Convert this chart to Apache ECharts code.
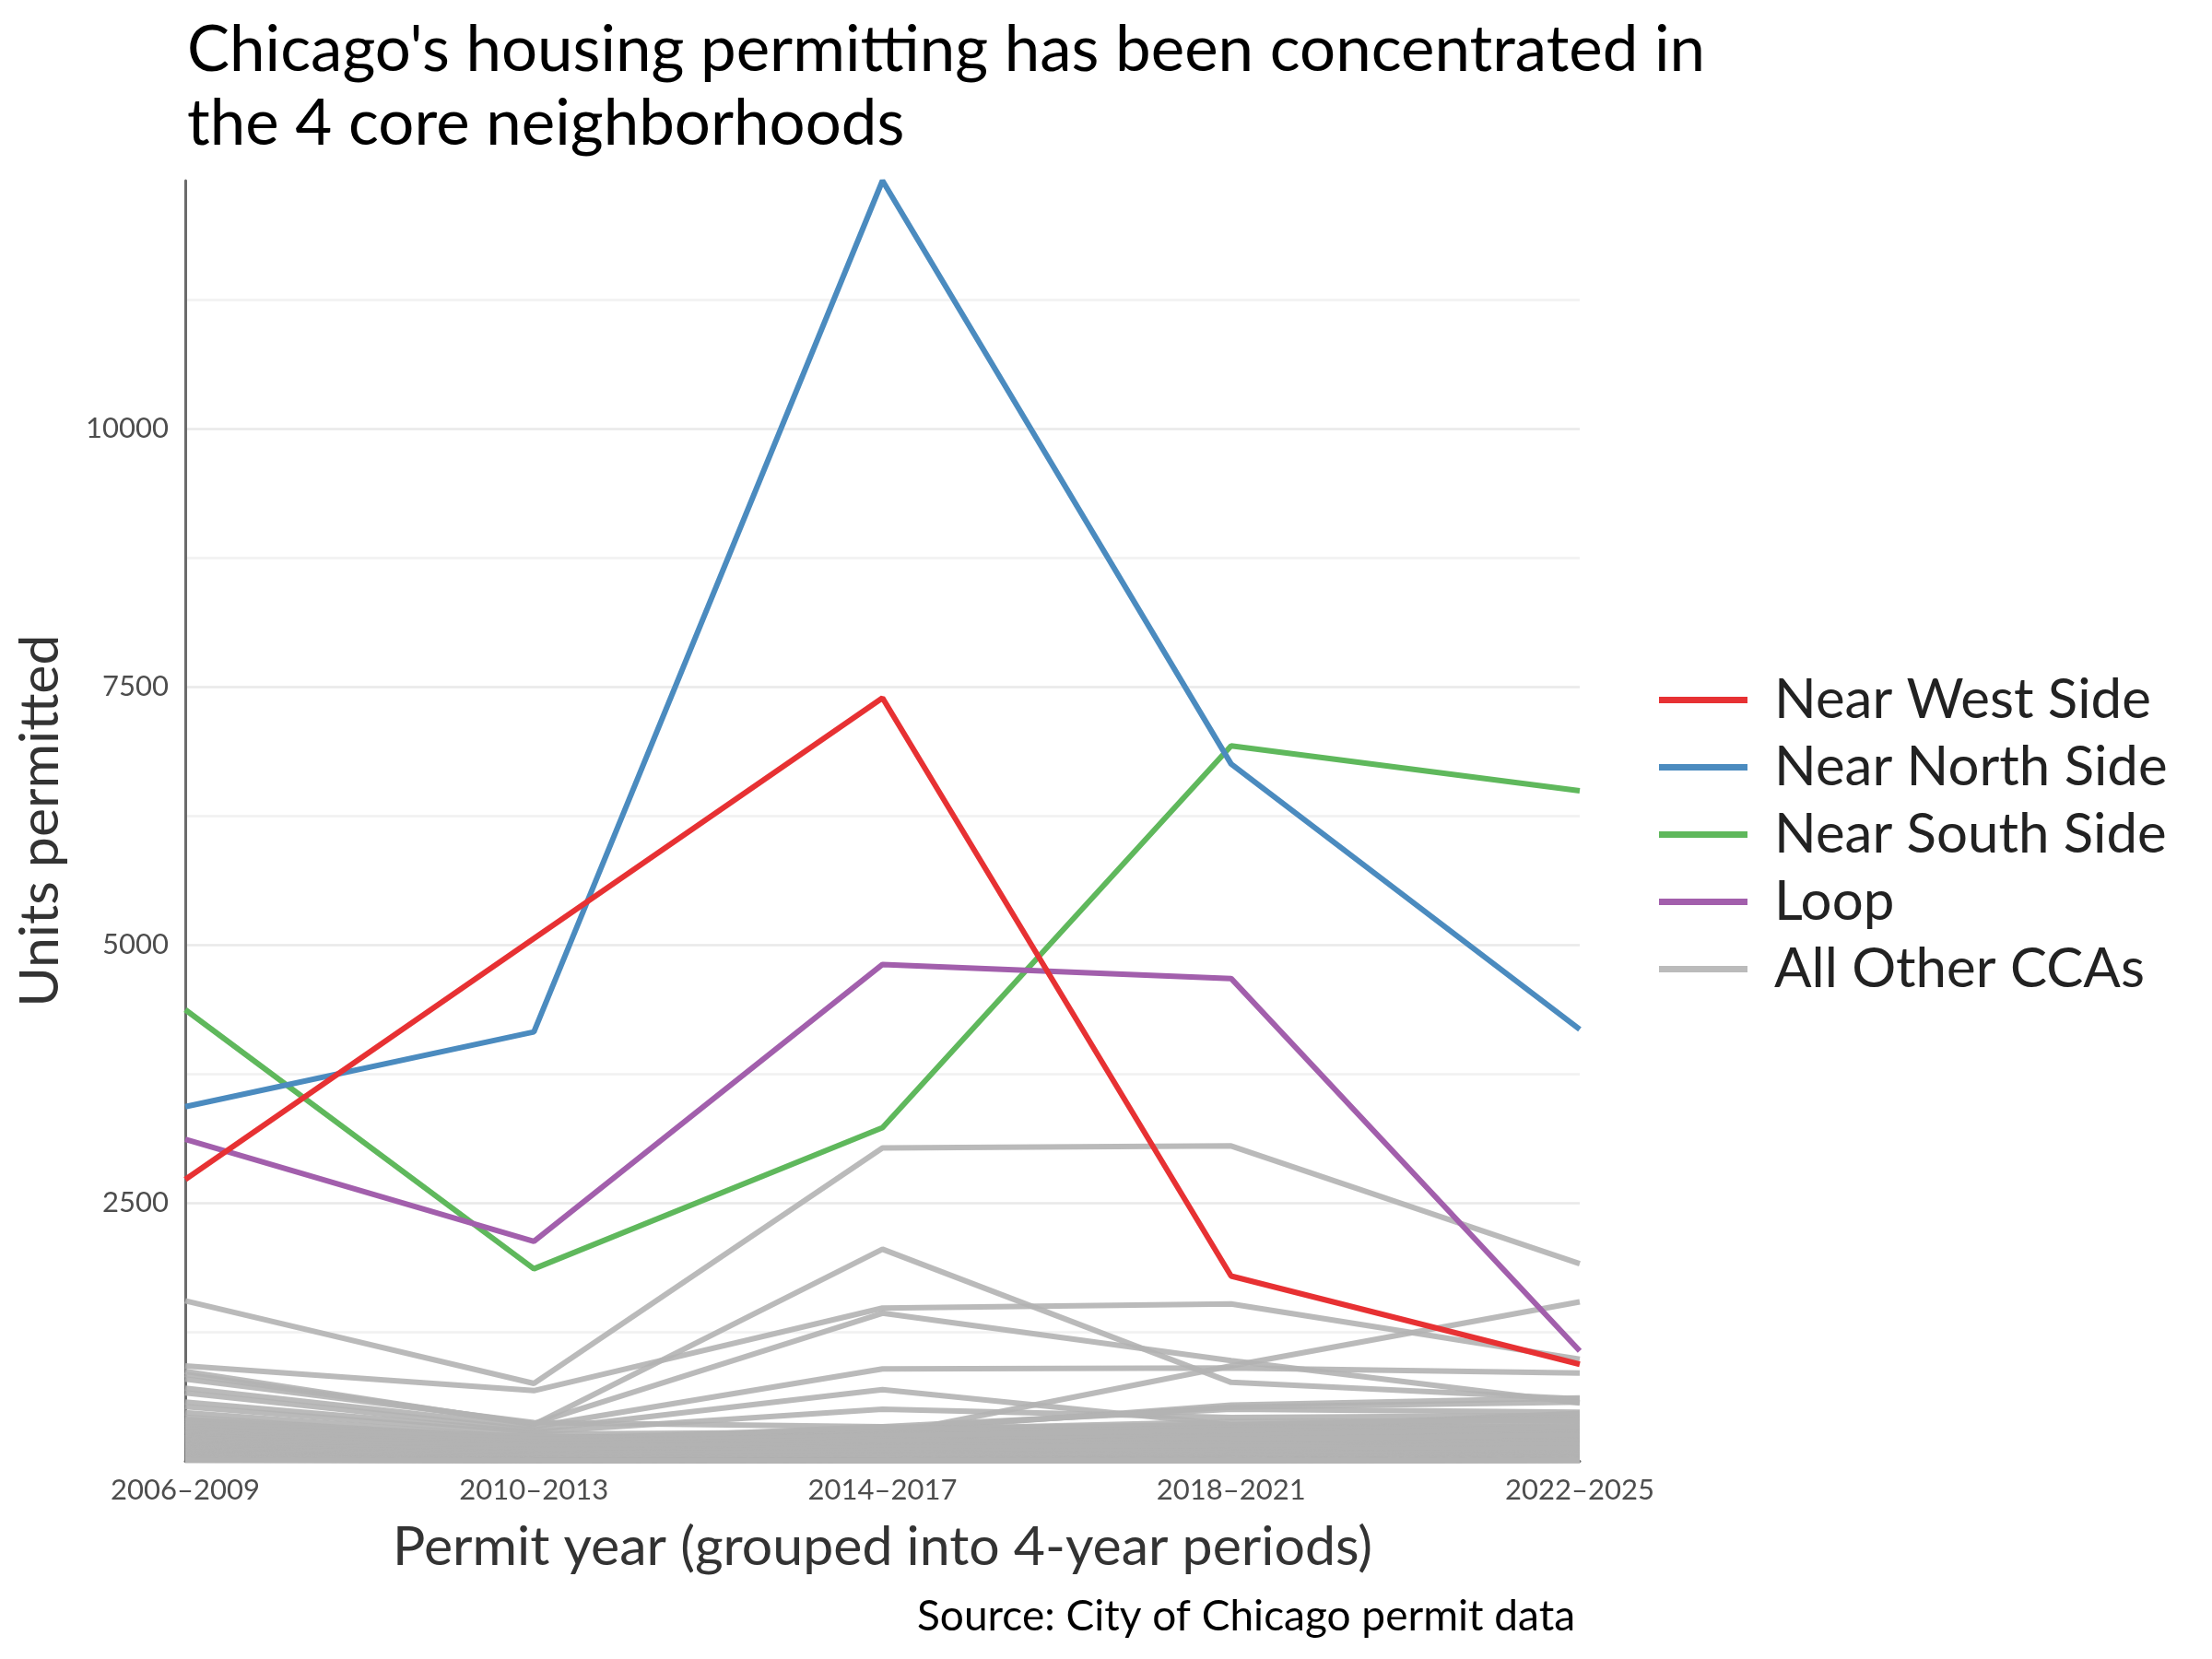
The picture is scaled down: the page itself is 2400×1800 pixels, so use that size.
<!DOCTYPE html>
<html>
<head>
<meta charset="utf-8">
<script src="https://cdn.jsdelivr.net/npm/echarts@6/dist/echarts.min.js"></script>
<style>
  html, body { margin: 0; padding: 0; background: #ffffff; }
  #chart { width: 2400px; height: 1800px; }
</style>
</head>
<body>
<div id="chart"></div>
<script>
// ---- data ----
const periods = ['2006–2009', '2010–2013', '2014–2017', '2018–2021', '2022–2025'];

const nearWestSide  = [2725, 5060, 7390, 1790, 935];
const nearNorthSide = [3430, 4155, 12400, 6750, 4180];
const nearSouthSide = [4370, 1860, 3228, 6925, 6490];
const loop          = [3115, 2125, 4808, 4672, 1065];

// each row: one other community area, values by period
const otherCCAs = [
  [1550, 750, 3030, 3050, 1910],
  [920, 680, 1480, 1520, 985],
  [866, 350, 2050, 760, 600],
  [837, 360, 1430, 970, 560],
  [300, 150, 250, 920, 1540],
  [703, 330, 890, 900, 850],
  [658, 300, 690, 350, 320],
  [570, 280, 500, 420, 440],
  [466, 220, 290, 540, 610],
  [421, 200, 310, 520, 570],
  [792, 370, 330, 500, 470],
  [525, 260, 280, 340, 410],
  [377, 190, 300, 330, 380],
  [350, 180, 320, 310, 460],
  [260, 150, 310, 350, 420],
  [200, 170, 300, 380, 390],
  [180, 130, 280, 300, 340],
  [150, 120, 260, 320, 300],
  [400, 220, 240, 260, 280],
  [360, 230, 200, 280, 240],
  [230, 190, 330, 230, 200],
  [140, 160, 250, 270, 180],
  [310, 240, 150, 200, 160],
  [110, 90, 210, 250, 230],
  [80, 60, 160, 210, 260],
  [330, 210, 180, 260, 300],
  [315, 120, 150, 220, 310],
  [298, 180, 240, 300, 270],
  [285, 90, 130, 180, 260],
  [270, 160, 200, 150, 220],
  [262, 140, 120, 240, 330],
  [250, 110, 170, 200, 180],
  [244, 70, 90, 160, 240],
  [236, 150, 210, 130, 150],
  [228, 100, 140, 190, 210],
  [220, 80, 110, 120, 170],
  [214, 130, 160, 210, 250],
  [206, 60, 70, 100, 140],
  [198, 120, 190, 170, 120],
  [190, 95, 100, 140, 200],
  [184, 140, 150, 110, 90],
  [176, 50, 80, 130, 190],
  [170, 110, 120, 90, 110],
  [162, 85, 140, 160, 130],
  [156, 40, 60, 70, 100],
  [150, 100, 110, 120, 160],
  [144, 70, 90, 80, 70],
  [138, 60, 130, 140, 110],
  [132, 30, 50, 60, 90],
  [126, 80, 70, 100, 120],
  [120, 50, 100, 90, 60],
  [114, 40, 45, 70, 80],
  [108, 70, 80, 50, 40],
  [102, 25, 35, 40, 65],
  [96, 55, 60, 75, 50],
  [90, 30, 40, 30, 45],
  [84, 45, 55, 60, 30],
  [78, 20, 25, 35, 55],
  [72, 35, 30, 20, 25],
  [66, 15, 20, 45, 40],
  [60, 25, 45, 30, 20],
  [54, 10, 15, 25, 35],
  [48, 20, 25, 15, 15],
  [42, 8, 12, 20, 28],
  [36, 14, 18, 10, 12],
  [30, 6, 10, 14, 22],
  [26, 12, 8, 6, 10],
  [22, 4, 6, 10, 16],
  [18, 8, 5, 4, 6],
  [14, 3, 4, 8, 12],
  [10, 5, 3, 2, 4],
  [8, 2, 2, 5, 8],
  [5, 3, 1, 1, 2]
];

const yTickLabels = [2500, 5000, 7500, 10000];

// ---- chart ----
const FONT = 'Lato';
const colors = {
  'Near West Side': '#e73133',
  'Near North Side': '#4b8bbf',
  'Near South Side': '#5fb85c',
  'Loop': '#a25fac',
  'All Other CCAs': '#b3b3b3'
};
const LW = 6;

const series = [];
otherCCAs.forEach(function (row) {
  series.push({
    name: 'All Other CCAs',
    type: 'line',
    data: row,
    symbol: 'none',
    silent: true,
    lineStyle: { color: colors['All Other CCAs'], width: LW, opacity: 0.9 },
    itemStyle: { color: '#bbbbbb' },
    emphasis: { disabled: true }
  });
});
[
  ['Near South Side', nearSouthSide],
  ['Near North Side', nearNorthSide],
  ['Loop', loop],
  ['Near West Side', nearWestSide]
].forEach(function (p) {
  series.push({
    name: p[0],
    type: 'line',
    data: p[1],
    symbol: 'none',
    silent: true,
    lineStyle: { color: colors[p[0]], width: LW },
    itemStyle: { color: colors[p[0]] },
    emphasis: { disabled: true }
  });
});

const major = '#e9e9e9', minor = '#f1f1f1';
const chart = echarts.init(document.getElementById('chart'), null, { renderer: 'canvas' });
chart.setOption({
  animation: false,
  backgroundColor: '#ffffff',
  textStyle: { fontFamily: FONT },
  title: [
    {
      text: "Chicago's housing permitting has been concentrated in\nthe 4 core neighborhoods",
      left: 198,
      top: 10,
      textStyle: { fontFamily: FONT, fontSize: 69, fontWeight: 'normal', color: '#000000', lineHeight: 80 }
    },
    {
      text: 'Source: City of Chicago permit data',
      right: 686,
      top: 1726,
      textStyle: { fontFamily: FONT, fontSize: 46, fontWeight: 'normal', color: '#000000' }
    }
  ],
  legend: {
    orient: 'vertical',
    left: 1795,
    top: 724,
    icon: 'rect',
    itemWidth: 96,
    itemHeight: 7,
    itemGap: 12,
    selectedMode: false,
    data: [
      { name: 'Near West Side', itemStyle: { color: colors['Near West Side'] } },
      { name: 'Near North Side', itemStyle: { color: colors['Near North Side'] } },
      { name: 'Near South Side', itemStyle: { color: colors['Near South Side'] } },
      { name: 'Loop', itemStyle: { color: colors['Loop'] } },
      { name: 'All Other CCAs', itemStyle: { color: '#bbbbbb' } }
    ],
    textStyle: { fontFamily: FONT, fontSize: 60, color: '#222222', lineHeight: 61, padding: [0, 0, 0, 24] }
  },
  grid: { left: 201, right: 686, top: 196, bottom: 215, containLabel: false },
  xAxis: {
    type: 'category',
    data: periods,
    boundaryGap: false,
    name: 'Permit year (grouped into 4-year periods)',
    nameLocation: 'middle',
    nameGap: 64,
    nameTextStyle: { fontFamily: FONT, fontSize: 59, color: '#333333' },
    axisLine: { show: true, lineStyle: { color: '#6b6b6b', width: 3 } },
    axisTick: { show: false },
    axisLabel: { fontFamily: FONT, fontSize: 31, color: '#4d4d4d', margin: 16 },
    splitLine: { show: false }
  },
  yAxis: {
    type: 'value',
    min: 0,
    max: 'dataMax',
    interval: 1250,
    name: 'Units permitted',
    nameLocation: 'middle',
    nameGap: 128,
    nameTextStyle: { fontFamily: FONT, fontSize: 59, color: '#333333' },
    axisLine: { show: true, lineStyle: { color: '#6b6b6b', width: 3 } },
    axisTick: { show: false },
    axisLabel: {
      fontFamily: FONT, fontSize: 31, color: '#4d4d4d', margin: 18,
      formatter: function (v) { return yTickLabels.indexOf(v) >= 0 ? String(v) : ''; }
    },
    splitLine: {
      show: true,
      lineStyle: {
        width: 2.5,
        color: [major, minor, major, minor, major, minor, major, minor, major, minor, 'rgba(0,0,0,0)']
      }
    }
  },
  series: series
});
</script>
</body>
</html>
